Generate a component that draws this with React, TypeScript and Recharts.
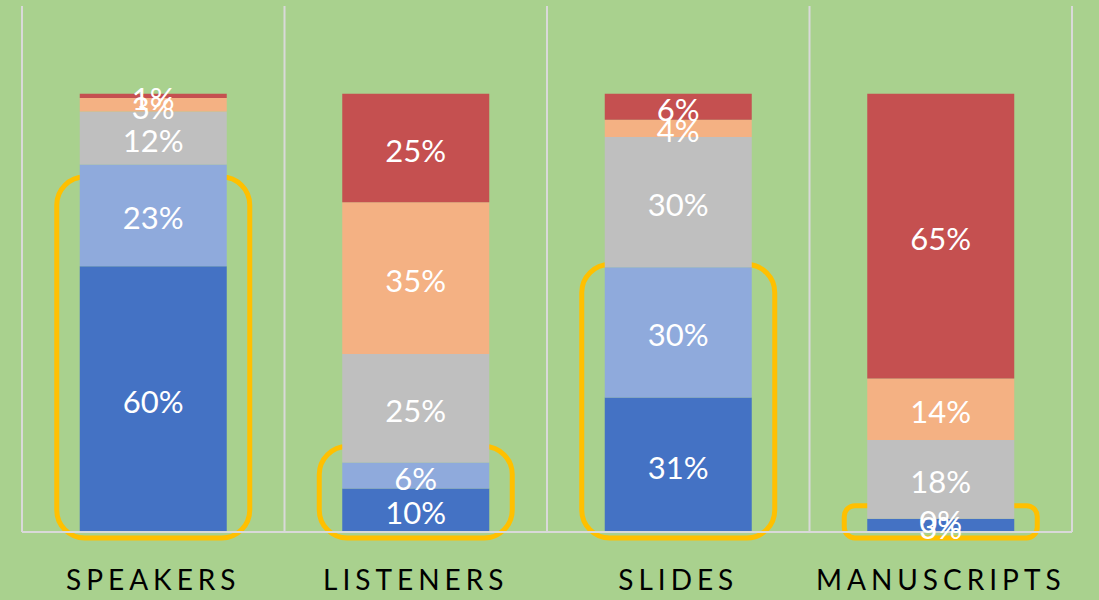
import { BarChart, Bar, XAxis, YAxis, CartesianGrid, LabelList, ReferenceArea, ReferenceDot } from 'recharts';

const categories = ['SPEAKERS', 'LISTENERS', 'SLIDES', 'MANUSCRIPTS'];

// bottom to top
const seriesKeys = ['s1', 's2', 's3', 's4', 's5'];
const seriesColors = ['#4472C4', '#8FAADC', '#BFBFBF', '#F4B183', '#C55050'];
const s1 = [60, 10, 31, 3];
const s2 = [23, 6, 30, 0];
const s3 = [12, 25, 30, 18];
const s4 = [3, 35, 4, 14];
const s5 = [1, 25, 6, 65];
const seriesValues = [s1, s2, s3, s4, s5];

// yellow highlight boxes: top of each box in percent of the column
const highlightTop = [81, 19.5, 61, 6];

const data = categories.map((name, i) => {
  const total = seriesValues.reduce((sum, s) => sum + s[i], 0);
  const row: Record<string, string | number> = { name };
  seriesKeys.forEach((k, j) => {
    row[k] = (seriesValues[j][i] / total) * 100;
    row[k + 'Raw'] = seriesValues[j][i];
  });
  return row;
});

// zero-height segments get no bar label, so place them on the stack boundary
const zeroLabels: { name: string; y: number }[] = [];
data.forEach((row, i) => {
  let cum = 0;
  seriesKeys.forEach((k, j) => {
    if (seriesValues[j][i] === 0) zeroLabels.push({ name: row.name as string, y: cum });
    cum += row[k] as number;
  });
});

const font = 'Lato, "Open Sans", sans-serif';

function HighlightBox(props: any) {
  const { x, y, width, height } = props;
  const cx = x + width / 2;
  const w = width * 0.56 + 46;
  const h = height + 6;
  const r = Math.min(28, h / 3);
  return (
    <rect
      x={cx - w / 2}
      y={y}
      width={w}
      height={h}
      rx={r}
      ry={r}
      fill="none"
      stroke="#FFC000"
      strokeWidth={5}
    />
  );
}

function renderLabel(props: any) {
  const box = props.viewBox || props;
  const { x, y, width, height } = box;
  if (x == null || y == null) return null;
  return (
    <text
      x={x + (width || 0) / 2}
      y={y + (height || 0) / 2 + 2}
      fill="#FFFFFF"
      fontSize={31}
      fontFamily={font}
      textAnchor="middle"
      dominantBaseline="central"
    >
      {`${props.value}%`}
    </text>
  );
}

export default function App() {
  return (
    <div style={{ position: 'fixed', left: 0, top: 0, width: 1099, height: 600, background: '#A9D18E' }}>
      <BarChart
        width={1099}
        height={600}
        data={data}
        margin={{ top: 6, right: 27, bottom: 0, left: 22 }}
        barCategoryGap="22%"
      >
        <CartesianGrid
          horizontal={false}
          stroke="#D9D9D9"
          strokeWidth={2}
          verticalCoordinatesGenerator={({ offset }: any) =>
            categories.concat(['']).map((_, i) => offset.left + (i * offset.width) / categories.length)
          }
        />
        <XAxis
          dataKey="name"
          axisLine={{ stroke: '#D9D9D9', strokeWidth: 2 }}
          tickLine={false}
          height={68}
          tickMargin={32}
          tick={{ fill: '#000000', fontSize: 28, fontFamily: font, letterSpacing: 5 }}
        />
        <YAxis hide domain={[0, 120]} />
        {seriesKeys.map((k, j) => (
          <Bar key={k} dataKey={k} stackId="a" fill={seriesColors[j]} isAnimationActive={false}>
            <LabelList dataKey={k + 'Raw'} content={renderLabel} />
          </Bar>
        ))}
        {zeroLabels.map((z, i) => (
          <ReferenceDot
            key={'z' + i}
            x={z.name}
            y={z.y}
            r={1}
            fill="none"
            stroke="none"
            label={(p: any) => renderLabel({ ...p, value: 0 })}
          />
        ))}
        {categories.map((c, i) => (
          <ReferenceArea
            key={c}
            x1={c}
            x2={c}
            y1={0}
            y2={highlightTop[i]}
            shape={<HighlightBox />}
          />
        ))}
      </BarChart>
    </div>
  );
}
